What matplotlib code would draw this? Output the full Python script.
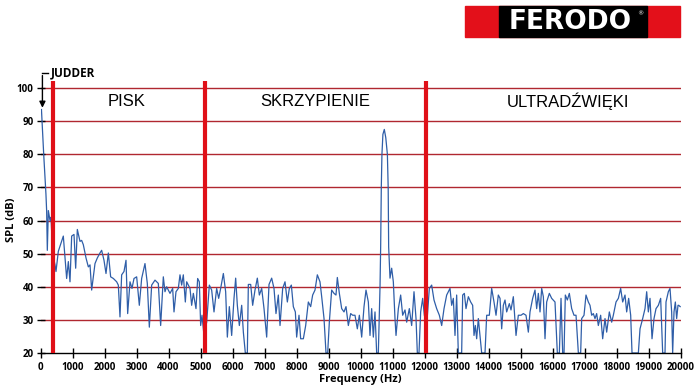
import numpy as np
import matplotlib
matplotlib.use("Agg")
import matplotlib.pyplot as plt
from matplotlib.patches import Rectangle

# widmo SPL (Hz, dB)
freq = [
    30, 100, 170, 192, 213, 245, 297, 328, 380, 453, 484, 557, 713, 817, 870, 922,
    974, 1047, 1099, 1151, 1234, 1286, 1338, 1422, 1495, 1547, 1599, 1703, 1776,
    1859, 1911, 1984, 2047, 2120, 2192, 2276, 2380, 2432, 2484, 2536, 2609, 2672,
    2724, 2797, 2859, 2922, 3005, 3088, 3161, 3265, 3338, 3401, 3474, 3578, 3682,
    3755, 3838, 3890, 3942, 4047, 4130, 4172, 4234, 4307, 4359, 4411, 4463, 4526,
    4568, 4672, 4724, 4776, 4859, 4911, 4963, 5005, 5047, 5109, 5193, 5276, 5349,
    5422, 5505, 5568, 5630, 5714, 5786, 5839, 5901,
    5974, 6047, 6099, 6151, 6214, 6287, 6339, 6401, 6464, 6495, 6568, 6630, 6703,
    6776, 6839, 6912, 6985, 7068, 7141, 7224, 7297, 7359, 7432, 7485, 7568, 7641,
    7714, 7776, 7839, 7901, 7964, 8005, 8078, 8130, 8214, 8287, 8370, 8443, 8505,
    8578, 8651, 8734, 8787, 8860, 8922, 8974, 9026, 9099, 9172, 9234, 9276, 9339,
    9412, 9485, 9547, 9620, 9693, 9755, 9828, 9901, 9964, 10037, 10110, 10172,
    10245, 10297, 10349, 10401, 10453, 10505, 10557, 10610, 10630, 10650, 10670,
    10700, 10744, 10790, 10840, 10865, 10880, 10922, 10974, 11026, 11078, 11110,
    11183, 11255, 11318, 11391, 11443, 11526, 11599, 11672, 11735, 11776, 11828,
    11880, 11943, 11995, 12068, 12151, 12224, 12297, 12380, 12464, 12537, 12610,
    12693,
    12797, 12849, 12901, 12953, 13005, 13057, 13161, 13193, 13245, 13297, 13370,
    13443, 13505, 13547, 13589, 13630, 13682, 13735, 13787, 13891, 13943, 14026,
    14099, 14172, 14235, 14307, 14360, 14412, 14464, 14516, 14568, 14651, 14703,
    14776, 14860, 14932, 15016, 15089, 15172, 15245, 15297, 15380, 15453, 15505,
    15557, 15610, 15662, 15714, 15766, 15818, 15901, 15974, 16078, 16151, 16214,
    16266, 16318, 16360, 16401, 16464, 16526, 16599, 16672, 16735, 16808, 16880,
    16912, 16985, 17047, 17120, 17172, 17224, 17276, 17328, 17380, 17432, 17505,
    17568, 17641, 17693, 17776, 17849, 17901, 17985, 18058, 18130, 18193, 18266,
    18318, 18380, 18443, 18485, 18683, 18735, 18818, 18891, 18943, 18995, 19047,
    19110, 19172, 19235, 19308, 19380, 19443, 19516, 19547, 19620, 19672, 19724,
    19755, 19797, 19839, 19880, 19922, 19943, 19990,
]
spl = [
    93.5, 80, 68, 62.9, 51, 63, 60, 61, 50, 46.6, 44.6, 50.7, 55.3, 42.5, 47.6, 41.5,
    55.3, 55.8, 45.6, 57.3, 53.7, 54, 52.7, 48.7, 46, 46.6, 39, 47, 48.7,
    50.2, 51, 48, 44, 50.2, 43, 42.5, 41.5, 40.5, 30.9, 43.6, 44.6, 48,
    31.9, 41.5, 39.5, 42.5, 43, 34.4, 42.5, 47, 41, 27.8, 40.5, 42, 41,
    28.3, 43, 38.5, 40, 38, 39.5, 32.4, 38.5, 39.5, 43.6, 40.5, 43.6, 35.4,
    41.5, 39.5, 34.4, 38, 33.4, 42.5, 41.5, 28.3, 31.4, 25.3, 29.3, 40.5, 39,
    32.4, 39.5, 36.5, 39.5, 44, 38.5, 24.8, 34,
    25.3, 36.5, 42.6, 34.4, 28.3, 34.4, 26.3, 20, 20, 40.7, 40.7, 34.4, 39,
    42.6, 37.5, 39.5, 33.4, 24.8, 40.7, 42.6, 39.5, 31.9, 37.5, 28.3, 39.5, 41.5,
    35.4, 39.5, 40.5, 34, 32.4, 24.8, 31.4, 24.3, 24.3, 28.3, 35.4, 34, 37.5,
    39, 43.6, 41.5, 37, 30.4, 20, 20, 29.3, 39, 38, 37.5, 42.8, 38,
    33.4, 32.4, 34, 28.3, 31.9, 31.4, 31.4, 27.3, 31.4, 24.8, 34, 39,
    35.4, 25.3, 33.4, 24.8, 32.4, 20, 20, 40, 52, 70, 80,
    86, 87.5, 85, 80, 70, 52, 42.6, 45.6, 41.5, 30.4, 25.3,
    33.4, 37.5, 31.4, 33, 29.3, 33.4, 28.3, 38.5, 30.4, 20, 20,
    32.4, 36.5, 31.4, 28.3, 39.5, 40.5, 36, 33.4, 31.4, 28.3, 33.4,
    37.5,
    39.5, 34.4, 36.5, 25.3, 37.5, 20, 20, 37.5, 38, 33.4, 37,
    35.4, 34.4, 25.3, 28.3, 24.3, 30.4, 25.3, 20, 20, 31.4, 31.4,
    39.5, 35.4, 31.4, 37.5, 36.5, 27.3, 34.4, 36, 32.4, 34.9, 33,
    37, 25.3, 31.4, 31.4, 31.9, 31.4, 26.3, 32.4, 36.5, 39, 33.4,
    38, 32.4, 39.5, 37, 24.3, 35.4, 38, 36.5, 35.4, 20, 20,
    36.5, 20, 20, 37.5, 36, 38, 33.4, 31.4, 31.4, 20, 20,
    30.4, 31.4, 37.5, 35.4, 34.4, 31.4, 31.9, 30.4, 31.9, 28.3, 31.4,
    24.3, 30.4, 26.3, 32.4, 29.3, 31.4, 35.4, 36.5, 39.5, 35.4, 37.5,
    32.4, 36.5, 31.4, 20, 20, 27.3, 30.4, 33.4, 38.5, 32.4, 36.5,
    24.3, 30.4, 33.4, 34.4, 36.5, 20, 20, 35.4, 38.5, 39.5, 32.4,
    20, 32.4, 35.4, 30.4, 34.4, 34.4, 34,
]

band_edges = [400, 5140, 12050]
band_names = ["PISK", "SKRZYPIENIE", "ULTRADŹWIĘKI"]
band_centers = [2700, 8580, 16500]
x_ticks = list(range(0, 20001, 1000))
y_ticks = list(range(20, 101, 10))

FONT = "Open Sans"

fig = plt.figure(figsize=(7, 3.92), dpi=100)
ax = fig.add_axes([40.5 / 700, 39 / 392, 640 / 700, 271.6 / 392])

ax.set_xlim(0, 20000)
ax.set_ylim(20, 102)

# poziome linie siatki
for y in y_ticks[1:]:
    ax.axhline(y, color="#b02830", lw=1.0, zorder=1)

# granice pasm
for x in band_edges:
    ax.axvline(x, color="#e01018", lw=3.0, zorder=3)

ax.plot(freq, spl, color="#2f5ea8", lw=0.9, zorder=2)

for name, xc in zip(band_names, band_centers):
    ax.text(xc, 96, name, ha="center", va="center", fontsize=12,
            family="Liberation Sans", color="black")

# JUDDER strzałka
ax.annotate("", xy=(60, 93.2), xytext=(60, 104.6),
            arrowprops=dict(arrowstyle="-|>", color="black", lw=1.0,
                            mutation_scale=9),
            annotation_clip=False)
ax.plot([60, 230], [104.6, 104.6], color="black", lw=1.0, clip_on=False)
ax.text(330, 104.6, "JUDDER", ha="left", va="center", fontsize=8.5,
        fontweight="bold", family=FONT)

for s in ["top", "right", "left"]:
    ax.spines[s].set_visible(False)
ax.spines["bottom"].set_linewidth(1.0)

ax.set_xticks(x_ticks)
ax.set_yticks(y_ticks)
ax.tick_params(axis="x", direction="inout", length=7, width=1, pad=3,
               labelsize=7)
ax.tick_params(axis="y", direction="inout", length=6, width=1, pad=2,
               labelsize=7)
for lab in ax.get_xticklabels() + ax.get_yticklabels():
    lab.set_fontweight("bold")
    lab.set_family(FONT)

ax.set_xlabel("Frequency (Hz)", fontsize=8, fontweight="bold", family=FONT,
              labelpad=1)
ax.set_ylabel("SPL (dB)", fontsize=8, fontweight="bold", family=FONT)
ax.yaxis.set_label_coords(-0.037, 0.49)

# logo FERODO
fig.patches.append(Rectangle((465 / 700, 1 - 37 / 392), 215 / 700, 31 / 392,
                             transform=fig.transFigure, color="#e3101a"))
fig.patches.append(Rectangle((499 / 700, 1 - 37 / 392), 148 / 700, 31 / 392,
                             transform=fig.transFigure, color="black"))
fig.text(570 / 700, 1 - 22 / 392, "FERODO", ha="center", va="center",
         color="white", fontsize=19, fontweight="bold", family="DejaVu Sans")
fig.text(640 / 700, 1 - 14 / 392, "®", ha="center", va="center",
         color="white", fontsize=4.5)

fig.savefig("out.png", dpi=100)
